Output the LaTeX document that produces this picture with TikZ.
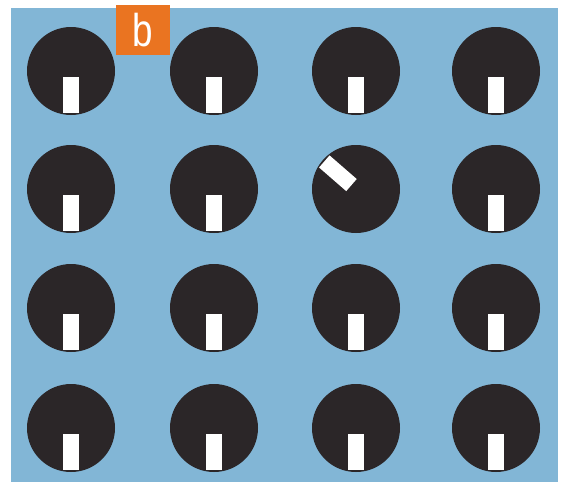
\documentclass[tikz,border=0pt]{standalone}
\usepackage{fontspec}
\usepackage{graphicx}
\setmainfont{Liberation Sans}
\definecolor{bg}{HTML}{82B6D6}
\definecolor{dial}{HTML}{2B2628}
\definecolor{tagc}{HTML}{EA7421}
\begin{document}
\begin{tikzpicture}[x=1pt,y=-1pt,
  dialc/.style={circle,fill=dial,minimum size=88pt,inner sep=0pt},
  tagbox/.style={fill=tagc,text=white,minimum width=54pt,minimum height=50pt,inner sep=0pt,font=\fontsize{46}{46}\selectfont}]
\useasboundingbox (0,0) rectangle (564,482);
\fill[white] (0,0) rectangle (564,482);
\fill[bg] (11,8) rectangle (558,482);
\foreach \c/\x in {1/71,2/214,3/356,4/496}{
  \foreach \r/\y in {1/71,2/189,3/308,4/428}{
    \node[dialc] (d\r\c) at (\x,\y) {};
    \ifnum\r\c=23 \def\ang{-131}\else\def\ang{0}\fi
    \begin{scope}[shift={(d\r\c.center)},rotate=\ang]
      \fill[white] (-8,6) rectangle (8,42);
    \end{scope}
  }
}
\node[tagbox] (tag) at (143,30) {\scalebox{0.8}[1]{b}};
\end{tikzpicture}
\end{document}
